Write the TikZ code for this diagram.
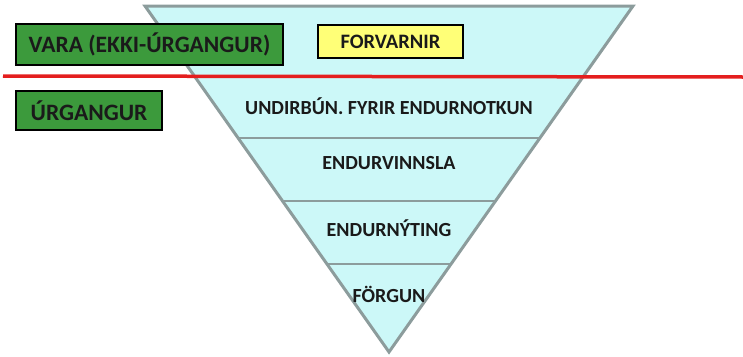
\documentclass[tikz,border=0pt]{standalone}
\usepackage{fontspec}
\setmainfont{Carlito}
\definecolor{tri}{HTML}{CCF8F8}
\definecolor{triedge}{HTML}{8C9C9C}
\definecolor{grn}{HTML}{3C9A3C}
\definecolor{yel}{HTML}{FFFF77}
\definecolor{redl}{HTML}{E41E1E}
\definecolor{txt}{HTML}{1A1A1A}
\begin{document}
\begin{tikzpicture}[x=1pt,y=-1pt,
  lbl/.style={font=\bfseries\fontsize{20}{24}\selectfont, text=txt},
  greenbox/.style={draw=black, line width=2pt, fill=grn, font=\bfseries\fontsize{23.5}{28}\selectfont, text=txt, inner sep=0pt},
  yellowbox/.style={draw=black, line width=2pt, fill=yel, font=\bfseries\fontsize{20.5}{24}\selectfont, text=txt, inner sep=0pt}]
\useasboundingbox (0,0) rectangle (743,356);
% triangle
\coordinate (tl) at (145,6);
\coordinate (tr) at (633,6);
\coordinate (ap) at (389,352);
\fill[tri] (tl) -- (tr) -- (ap) -- cycle;
% band lines
\foreach \y/\n in {138/a,201/b,264/c}{
  \pgfmathsetmacro{\dx}{244*(1-(\y-6)/346)}
  \coordinate (l\n) at ({389-\dx},\y);
  \coordinate (r\n) at ({389+\dx},\y);
  \draw[triedge, line width=2.5pt] (l\n) -- (r\n);
}
\draw[triedge, line width=3pt, line join=miter] (tl) -- (tr) -- (ap) -- cycle;
% red line
\coordinate (rl) at (3,76);
\coordinate (rr) at (743,77);
\draw[redl, line width=3.5pt] (rl) -- (rr);
% boxes
\node[greenbox, minimum width=267pt, minimum height=41pt] (vara) at (149.5,44.5) {VARA (EKKI-ÚRGANGUR)};
\node[greenbox, minimum width=146pt, minimum height=39pt] (urg) at (89,110.5) {ÚRGANGUR};
\node[yellowbox, minimum width=145pt, minimum height=33pt] (forv) at (390.5,41.5) {FORVARNIR};
% labels
\node[lbl] (undir) at (389,106) {UNDIRBÚN. FYRIR ENDURNOTKUN};
\node[lbl] (vinn) at (389,163) {ENDURVINNSLA};
\node[lbl] (nyt) at (389,228) {ENDURNÝTING};
\node[lbl] (forg) at (389,294) {FÖRGUN};
\end{tikzpicture}
\end{document}
